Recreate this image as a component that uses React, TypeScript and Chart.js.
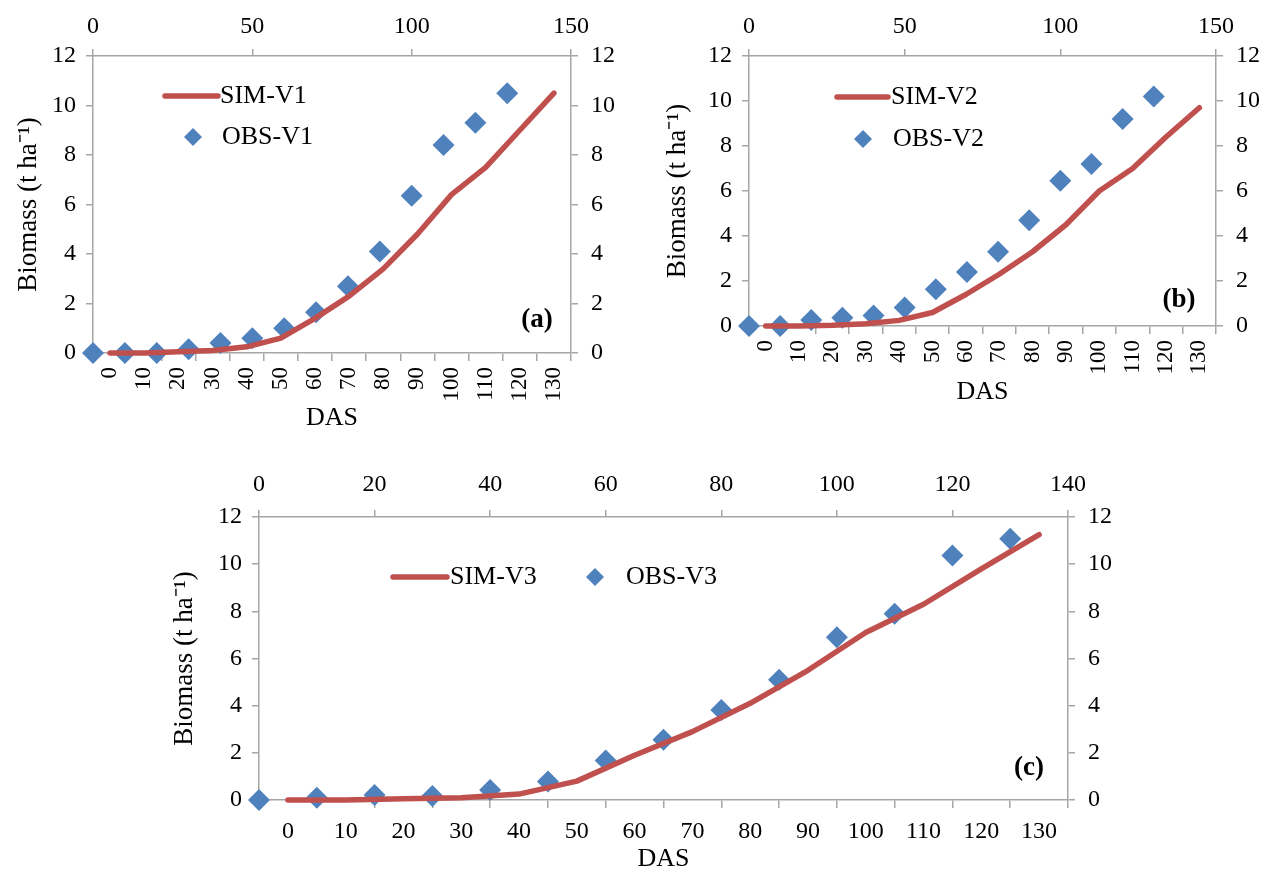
import React, { useEffect, useRef } from 'react';
import { Chart, registerables } from 'chart.js';

Chart.register(...registerables);

// ---------- data ----------
const DAS_LABELS = ['0', '10', '20', '30', '40', '50', '60', '70', '80', '90', '100', '110', '120', '130'];
const OBS_DAS = [0, 10, 20, 30, 40, 50, 60, 70, 80, 90, 100, 110, 120, 130];

const SIM_V1 = [0, 0.0, 0.05, 0.1, 0.25, 0.6, 1.4, 2.3, 3.4, 4.8, 6.4, 7.5, 9.0, 10.5];
const OBS_V1 = [0, 0, 0, 0.15, 0.4, 0.6, 1.0, 1.65, 2.7, 4.1, 6.35, 8.4, 9.3, 10.5];

const SIM_V2 = [0, 0.0, 0.03, 0.1, 0.25, 0.6, 1.4, 2.3, 3.3, 4.5, 6.0, 7.0, 8.4, 9.7];
const OBS_V2 = [0, 0, 0.27, 0.37, 0.47, 0.82, 1.63, 2.4, 3.3, 4.7, 6.46, 7.2, 9.2, 10.2];

const SIM_V3 = [0, 0.0, 0.05, 0.1, 0.25, 0.8, 1.9, 2.9, 4.1, 5.5, 7.1, 8.3, 9.8, 11.25];
const OBS_V3 = [0, 0.1, 0.21, 0.17, 0.42, 0.78, 1.67, 2.55, 3.82, 5.1, 6.9, 7.9, 10.37, 11.08];

const Y_MAX = 12;
const Y_STEP = 2;
const TOP_MAX_AB = 150;
const TOP_STEP_AB = 50;
const TOP_MAX_C = 140;
const TOP_STEP_C = 20;

// ---------- styles ----------
const RED = '#C0504D';
const BLUE = '#4F81BD';
const AXIS_GRAY = '#A6A6A6';
const FONT = '"Liberation Serif", "Times New Roman", serif';

function diamond(ctx: CanvasRenderingContext2D, x: number, y: number, r: number) {
  ctx.beginPath();
  ctx.moveTo(x - r, y);
  ctx.lineTo(x, y - r);
  ctx.lineTo(x + r, y);
  ctx.lineTo(x, y + r);
  ctx.closePath();
  ctx.fill();
}

const panelDecor = {
  id: 'panelDecor',
  afterDraw(chart: any, _args: any, opts: any) {
    const ctx: CanvasRenderingContext2D = chart.ctx;
    const ds = chart.data.datasets;
    const sim = ds[0];
    const obs = ds[1];
    ctx.save();
    ctx.font = `${opts.fontSize}px ${FONT}`;
    ctx.textBaseline = 'middle';
    ctx.textAlign = 'left';
    ctx.strokeStyle = sim.borderColor;
    ctx.lineWidth = sim.borderWidth;
    ctx.lineCap = 'round';
    ctx.beginPath();
    ctx.moveTo(opts.simX1, opts.simY);
    ctx.lineTo(opts.simX2, opts.simY);
    ctx.stroke();
    ctx.fillStyle = '#000';
    ctx.fillText(sim.label, opts.simTextX, opts.simY);
    ctx.fillStyle = obs.pointBackgroundColor;
    diamond(ctx, opts.obsMarkX, opts.obsY, opts.markR);
    ctx.fillStyle = '#000';
    ctx.fillText(obs.label, opts.obsTextX, opts.obsY);
    // panel tag
    ctx.font = `bold ${opts.tagSize}px ${FONT}`;
    ctx.textAlign = 'center';
    ctx.fillText(opts.tagText, opts.tagX, opts.tagY);
    ctx.restore();
  },
};

interface PanelCfg {
  sim: number[];
  obs: number[];
  simLabel: string;
  obsLabel: string;
  topMax: number;
  topStep: number;
  left: number;
  top: number;
  width: number;
  height: number;
  axisLeft: number;
  axisRight: number;
  axisTop: number;
  axisBottom: number;
  rotation: number;
  bottomFont: number;
  bottomTickPad: number;
  topTickPad: number;
  yTitlePad: number;
  xTitlePad: number;
  decor: any;
}

const tickFont = { size: 24, family: FONT };

function Panel({ cfg }: { cfg: PanelCfg }) {
  const ref = useRef<HTMLCanvasElement | null>(null);
  useEffect(() => {
    if (!ref.current) return;
    const gridBase = {
      display: true,
      drawOnChartArea: false,
      drawTicks: true,
      color: AXIS_GRAY,
      lineWidth: 1.5,
    };
    const border = { display: true, color: AXIS_GRAY, width: 1.5 };
    const chart = new Chart(ref.current, {
      type: 'line',
      data: {
        labels: DAS_LABELS,
        datasets: [
          {
            label: cfg.simLabel,
            data: cfg.sim,
            xAxisID: 'x',
            yAxisID: 'y',
            borderColor: RED,
            backgroundColor: RED,
            borderWidth: 5.5,
            pointRadius: 0,
            tension: 0,
            borderCapStyle: 'round',
            borderJoinStyle: 'round',
            clip: false,
          } as any,
          {
            label: cfg.obsLabel,
            data: OBS_DAS.map((d, i) => ({ x: d, y: cfg.obs[i] })),
            xAxisID: 'x2',
            yAxisID: 'y',
            showLine: false,
            pointStyle: 'rectRot',
            pointRadius: 11,
            pointBorderWidth: 0,
            pointBackgroundColor: BLUE,
            pointBorderColor: BLUE,
            backgroundColor: BLUE,
            borderColor: BLUE,
            clip: false,
          } as any,
        ],
      },
      options: {
        responsive: false,
        animation: false,
        devicePixelRatio: 1,
        events: [],
        layout: { padding: 0 },
        plugins: {
          legend: { display: false },
          tooltip: { enabled: false },
          panelDecor: cfg.decor,
        } as any,
        scales: {
          x: {
            type: 'category',
            position: 'bottom',
            offset: true,
            grid: { ...gridBase, offset: true, tickLength: 8 },
            border,
            ticks: {
              autoSkip: false,
              minRotation: cfg.rotation,
              maxRotation: cfg.rotation,
              padding: cfg.bottomTickPad,
              color: '#000',
              font: { size: cfg.bottomFont, family: FONT },
            },
            title: {
              display: true,
              text: 'DAS',
              color: '#000',
              font: { size: 26, family: FONT },
              padding: { top: 0, bottom: cfg.xTitlePad },
            },
            afterFit: (s: any) => {
              s.height = cfg.axisBottom;
            },
          },
          x2: {
            type: 'linear',
            position: 'top',
            min: 0,
            max: cfg.topMax,
            grid: { ...gridBase, tickLength: 7 },
            border,
            ticks: {
              stepSize: cfg.topStep,
              padding: cfg.topTickPad,
              color: '#000',
              font: tickFont,
              maxRotation: 0,
            },
            afterFit: (s: any) => {
              s.height = cfg.axisTop;
            },
          },
          y: {
            type: 'linear',
            position: 'left',
            min: 0,
            max: Y_MAX,
            grid: { ...gridBase, tickLength: 7 },
            border,
            ticks: { stepSize: Y_STEP, padding: 10, color: '#000', font: tickFont },
            title: {
              display: true,
              text: 'Biomass (t ha\u207B\u00B9)',
              color: '#000',
              font: { size: 27, family: FONT },
              padding: { top: cfg.yTitlePad, bottom: 0 },
            },
            afterFit: (s: any) => {
              s.width = cfg.axisLeft;
            },
          },
          y2: {
            type: 'linear',
            position: 'right',
            min: 0,
            max: Y_MAX,
            grid: { ...gridBase, tickLength: 7 },
            border,
            ticks: { stepSize: Y_STEP, padding: 13, color: '#000', font: tickFont },
            afterFit: (s: any) => {
              s.width = cfg.axisRight;
            },
          },
        } as any,
      },
      plugins: [panelDecor as any],
    });
    return () => chart.destroy();
  }, [cfg]);
  return (
    <canvas
      ref={ref}
      width={cfg.width}
      height={cfg.height}
      style={{ position: 'absolute', left: cfg.left, top: cfg.top, width: cfg.width, height: cfg.height }}
    />
  );
}

const PANEL_A: PanelCfg = {
  sim: SIM_V1,
  obs: OBS_V1,
  simLabel: 'SIM-V1',
  obsLabel: 'OBS-V1',
  topMax: TOP_MAX_AB,
  topStep: TOP_STEP_AB,
  left: 0,
  top: 0,
  width: 632,
  height: 440,
  axisLeft: 93,
  axisRight: 61,
  axisTop: 56,
  axisBottom: 87,
  rotation: 90,
  bottomFont: 23,
  bottomTickPad: 6,
  topTickPad: 7.6,
  yTitlePad: 12.8,
  xTitlePad: 6.4,
  decor: {
    fontSize: 26,
    simX1: 165, simX2: 218, simY: 96, simTextX: 220,
    obsMarkX: 193, obsY: 137, obsTextX: 222, markR: 9,
    tagText: '(a)', tagX: 537, tagY: 320, tagSize: 27,
  },
};

const PANEL_B: PanelCfg = {
  sim: SIM_V2,
  obs: OBS_V2,
  simLabel: 'SIM-V2',
  obsLabel: 'OBS-V2',
  topMax: TOP_MAX_AB,
  topStep: TOP_STEP_AB,
  left: 632,
  top: 0,
  width: 633,
  height: 440,
  axisLeft: 117,
  axisRight: 49,
  axisTop: 56,
  axisBottom: 114,
  rotation: 90,
  bottomFont: 23,
  bottomTickPad: 6,
  topTickPad: 7.6,
  yTitlePad: 29.8,
  xTitlePad: 32.4,
  decor: {
    fontSize: 26,
    simX1: 205, simX2: 256, simY: 97, simTextX: 259,
    obsMarkX: 231, obsY: 139, obsTextX: 261, markR: 9,
    tagText: '(b)', tagX: 547, tagY: 300, tagSize: 27,
  },
};

const PANEL_C: PanelCfg = {
  sim: SIM_V3,
  obs: OBS_V3,
  simLabel: 'SIM-V3',
  obsLabel: 'OBS-V3',
  topMax: TOP_MAX_C,
  topStep: TOP_STEP_C,
  left: 140,
  top: 440,
  width: 1000,
  height: 438,
  axisLeft: 119,
  axisRight: 72,
  axisTop: 77,
  axisBottom: 78,
  rotation: 0,
  bottomFont: 24,
  bottomTickPad: 9.6,
  topTickPad: 10.6,
  yTitlePad: 28.8,
  xTitlePad: 3.4,
  decor: {
    fontSize: 26,
    simX1: 253, simX2: 307, simY: 137, simTextX: 310,
    obsMarkX: 455, obsY: 137, obsTextX: 486, markR: 9,
    tagText: '(c)', tagX: 889, tagY: 328, tagSize: 27,
  },
};

export default function App() {
  return (
    <div
      style={{
        position: 'absolute',
        left: 0,
        top: 0,
        width: 1265,
        height: 878,
        background: '#ffffff',
        overflow: 'hidden',
      }}
    >
      <Panel cfg={PANEL_A} />
      <Panel cfg={PANEL_B} />
      <Panel cfg={PANEL_C} />
    </div>
  );
}
